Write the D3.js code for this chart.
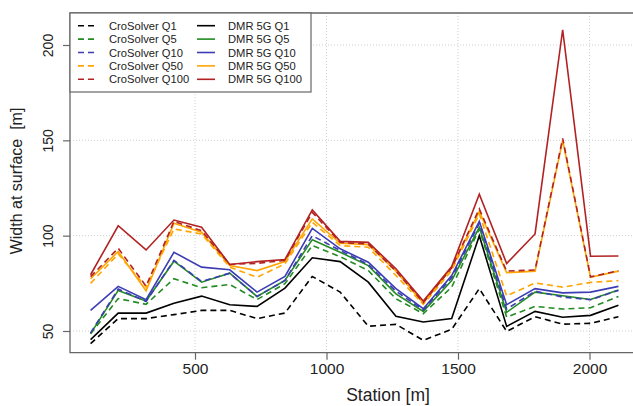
<!DOCTYPE html>
<html>
<head>
<meta charset="utf-8">
<script src="https://cdn.jsdelivr.net/npm/d3@7"></script>
<style>
body { margin: 0; background: #fff; }
</style>
</head>
<body>
<script>
// data
var stations = [103, 208, 314, 420, 525, 632, 736, 842, 946, 1052, 1159, 1264, 1368, 1476, 1581, 1685, 1793, 1898, 2004, 2110];

var croQ1   = [43.4, 56.5, 56.5, 58.6, 60.8, 60.8, 56.5, 59.4, 78.6, 70.4, 52.5, 53.5, 45.1, 50.9, 72.2, 49.8, 57.5, 53.6, 54.0, 57.5];
var croQ5   = [48.5, 67.0, 64.0, 77.4, 72.7, 74.4, 66.5, 74.8, 94.8, 89.0, 81.7, 66.9, 59.1, 73.0, 103.5, 57.3, 62.9, 61.5, 62.2, 68.1];
var croQ10  = [49.0, 72.0, 65.5, 87.0, 76.0, 80.3, 68.1, 76.5, 100.0, 92.2, 84.9, 70.9, 61.0, 77.9, 106.5, 61.5, 70.9, 67.8, 66.4, 71.3];
var croQ50  = [75.0, 90.4, 73.0, 103.5, 100.9, 83.5, 78.2, 85.2, 107.0, 94.8, 93.9, 79.1, 64.0, 81.7, 111.4, 68.4, 75.2, 73.0, 75.5, 76.4];
var croQ100 = [78.5, 93.4, 73.5, 107.5, 102.6, 84.9, 85.5, 87.0, 112.2, 96.5, 95.6, 81.4, 65.0, 83.1, 114.0, 81.4, 82.0, 151.0, 78.4, 81.6];

var dmrQ1   = [45.5, 59.4, 59.4, 64.6, 68.3, 63.8, 62.9, 72.5, 88.4, 86.4, 75.6, 57.7, 54.7, 56.5, 100.0, 52.4, 60.3, 57.2, 58.2, 63.5];
var dmrQ5   = [48.6, 71.3, 65.7, 86.6, 75.6, 80.3, 68.1, 76.5, 97.9, 91.3, 84.3, 69.5, 60.3, 76.5, 104.4, 59.8, 70.4, 68.5, 66.5, 71.5];
var dmrQ10  = [60.8, 73.4, 66.4, 91.3, 83.5, 82.1, 70.4, 78.6, 103.8, 93.1, 86.1, 72.2, 61.7, 79.1, 107.5, 63.8, 72.2, 70.0, 70.4, 73.4];
var dmrQ50  = [77.4, 91.7, 71.1, 106.5, 101.8, 84.3, 81.7, 86.4, 108.8, 96.0, 95.3, 81.4, 64.6, 83.1, 112.7, 80.6, 81.4, 150.0, 78.2, 81.4];
var dmrQ100 = [79.5, 105.2, 92.5, 108.2, 104.4, 84.9, 86.4, 87.5, 113.5, 97.0, 96.5, 82.6, 65.7, 83.8, 121.8, 85.4, 100.9, 208.0, 89.2, 89.3];

var xTicks = [500, 1000, 1500, 2000];
var yTicks = [50, 100, 150, 200];

var col = {q1: "#000000", q5: "#228b22", q10: "#3c3cb4", q50: "#ffa500", q100: "#b22222"};
var font = "'Liberation Sans', Arial, Helvetica, sans-serif";

var dmr = [
    {name: "DMR 5G Q1",   values: dmrQ1,   color: col.q1},
    {name: "DMR 5G Q5",   values: dmrQ5,   color: col.q5},
    {name: "DMR 5G Q10",  values: dmrQ10,  color: col.q10},
    {name: "DMR 5G Q50",  values: dmrQ50,  color: col.q50},
    {name: "DMR 5G Q100", values: dmrQ100, color: col.q100}
];
var cro = [
    {name: "CroSolver Q1",   values: croQ1,   color: col.q1},
    {name: "CroSolver Q5",   values: croQ5,   color: col.q5},
    {name: "CroSolver Q10",  values: croQ10,  color: col.q10},
    {name: "CroSolver Q50",  values: croQ50,  color: col.q50},
    {name: "CroSolver Q100", values: croQ100, color: col.q100}
];

var W = 633, H = 406;
var plot = {left: 70, right: 640, top: 13, bottom: 352.7};
var dash = "6,4";

var x = d3.scaleLinear().domain([0, 2000]).range([63.5, 589.5]);
var y = d3.scaleLinear().domain([50, 200]).range([331, 45]);

var svg = d3.select("body").append("svg")
    .attr("width", W)
    .attr("height", H)
    .style("display", "block");

// grid
svg.append("g").selectAll("line")
    .data(xTicks)
    .enter().append("line")
        .attr("x1", d => x(d)).attr("x2", d => x(d))
        .attr("y1", plot.top).attr("y2", plot.bottom)
        .attr("stroke", "#cfcfcf")
        .attr("stroke-width", 1)
        .attr("stroke-dasharray", "1,2");
svg.append("g").selectAll("line")
    .data(yTicks)
    .enter().append("line")
        .attr("x1", plot.left).attr("x2", plot.right)
        .attr("y1", d => y(d)).attr("y2", d => y(d))
        .attr("stroke", "#cfcfcf")
        .attr("stroke-width", 1)
        .attr("stroke-dasharray", "1,2");

// lines
var line = d3.line()
    .x((d, i) => x(stations[i]))
    .y(d => y(d));

var lines = svg.append("g").attr("fill", "none").attr("stroke-width", 1.6);
dmr.forEach(function(s, k) {
    lines.append("path")
        .attr("d", line(s.values))
        .attr("stroke", s.color);
    lines.append("path")
        .attr("d", line(cro[k].values))
        .attr("stroke", cro[k].color)
        .attr("stroke-dasharray", dash);
});

// frame
var frameCol = "#666";
svg.append("path")
    .attr("d", "M" + plot.right + "," + plot.top + "H" + plot.left + "V" + plot.bottom + "H" + plot.right)
    .attr("fill", "none")
    .attr("stroke", frameCol)
    .attr("stroke-width", 1.3);

// x axis
var xAxis = svg.append("g")
    .attr("transform", "translate(0," + plot.bottom + ")")
    .call(d3.axisBottom(x).tickValues(xTicks).tickSize(7).tickPadding(3).tickFormat(d3.format("d")));
xAxis.select(".domain").remove();
xAxis.selectAll("line").attr("stroke", frameCol).attr("stroke-width", 1.2);
xAxis.selectAll("text")
    .attr("font-family", font)
    .attr("font-size", "15.5px")
    .attr("fill", "#222");

// y axis
var yAxis = svg.append("g")
    .attr("transform", "translate(" + plot.left + ",0)")
    .call(d3.axisLeft(y).tickValues(yTicks).tickSize(7).tickFormat(d3.format("d")));
yAxis.select(".domain").remove();
yAxis.selectAll("line").attr("stroke", frameCol).attr("stroke-width", 1.2);
yAxis.selectAll("text")
    .attr("font-family", font)
    .attr("font-size", "14px")
    .attr("fill", "#222")
    .attr("x", 0)
    .attr("dy", 0)
    .attr("text-anchor", "middle")
    .attr("transform", "translate(-17,0) rotate(-90)");

// axis titles
svg.append("text")
    .attr("x", 388)
    .attr("y", 401)
    .attr("text-anchor", "middle")
    .attr("font-family", font)
    .attr("font-size", "17.5px")
    .attr("fill", "#222")
    .text("Station [m]");
svg.append("text")
    .attr("transform", "translate(22,181) rotate(-90)")
    .attr("text-anchor", "middle")
    .attr("font-family", font)
    .attr("font-size", "16px")
    .attr("fill", "#222")
    .attr("xml:space", "preserve")
    .style("white-space", "pre")
    .text("Width at surface  [m]");

// legend
var legend = svg.append("g");
legend.append("rect")
    .attr("x", plot.left)
    .attr("y", plot.top)
    .attr("width", 241)
    .attr("height", 79)
    .attr("fill", "#fff")
    .attr("stroke", frameCol)
    .attr("stroke-width", 1.2);

var rowY = d3.scaleLinear().domain([0, 4]).range([25.7, 79.3]);
function legendColumn(series, x0, dashed) {
    var g = legend.append("g");
    series.forEach(function(s, i) {
        g.append("line")
            .attr("x1", x0).attr("x2", x0 + 18)
            .attr("y1", rowY(i)).attr("y2", rowY(i))
            .attr("stroke", s.color)
            .attr("stroke-width", 1.6)
            .attr("stroke-dasharray", dashed ? dash : null);
        g.append("text")
            .attr("x", x0 + 31)
            .attr("y", rowY(i))
            .attr("dy", "0.36em")
            .attr("font-family", font)
            .attr("font-size", "11.2px")
            .attr("fill", "#222")
            .text(s.name);
    });
}
legendColumn(cro, 78, true);
legendColumn(dmr, 197, false);
</script>
</body>
</html>
